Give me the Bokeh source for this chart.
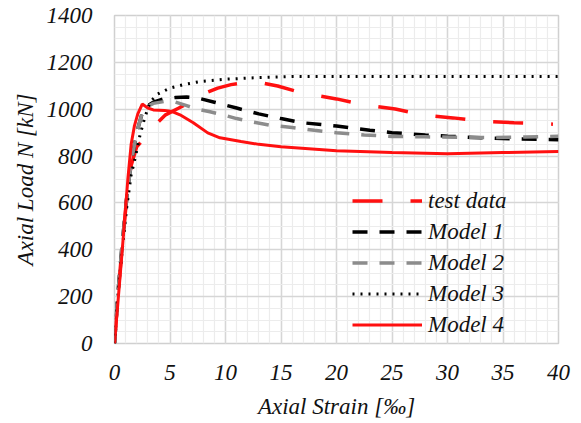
from bokeh.plotting import figure
from bokeh.models import Range1d, SingleIntervalTicker, Legend, LegendItem
from bokeh.embed import file_html
from bokeh.resources import INLINE

# ---- data ----
test_x = [0, 0.3, 0.7, 1.1, 1.5, 2.0, 2.8, 3.6, 4.6, 5.8, 6.8, 8.0, 9.3, 10.5, 12.0, 13.5, 14.7, 17.0, 20.0, 22.6, 25.3, 27.8, 30.5, 33.2, 36.0, 38.6, 39.5]
test_y = [0, 200, 420, 620, 760, 840, 880, 930, 976, 1005, 1031, 1065, 1090, 1105, 1116, 1110, 1099, 1068, 1044, 1018, 1001, 975, 963, 948, 942, 938, 936]

m1_x = [0, 0.3, 0.7, 1.1, 1.5, 2.0, 2.5, 3.0, 3.5, 4.5, 5.5, 6.5, 7.5, 9.0, 11.0, 13.0, 15.0, 17.0, 20.0, 23.0, 25.0, 28.0, 30.0, 33.0, 36.0, 40.0]
m1_y = [0, 210, 430, 620, 770, 900, 985, 1015, 1030, 1045, 1050, 1052, 1048, 1030, 1005, 980, 960, 942, 928, 910, 900, 890, 885, 878, 873, 870]

m2_x = [0, 0.3, 0.7, 1.1, 1.5, 2.0, 2.5, 3.0, 3.5, 4.5, 5.5, 6.5, 7.5, 8.6, 9.8, 11.0, 12.5, 14.0, 16.0, 18.0, 20.0, 22.5, 25.0, 28.0, 31.0, 34.0, 37.0, 40.0]
m2_y = [0, 210, 430, 620, 770, 900, 985, 1012, 1025, 1033, 1030, 1015, 1000, 989, 976, 960, 945, 932, 922, 910, 900, 890, 884, 882, 880, 879, 881, 885]

m3_x = [0, 0.3, 0.7, 1.1, 1.5, 1.9, 2.3, 2.7, 3.2, 3.9, 5.0, 6.2, 7.7, 10, 13, 16, 20, 25, 30, 35, 40]
m3_y = [0, 200, 400, 580, 720, 800, 890, 960, 1030, 1065, 1090, 1105, 1118, 1128, 1135, 1140, 1140, 1140, 1140, 1140, 1140]

m4_x = [0, 0.3, 0.7, 1.2, 1.5, 1.8, 2.1, 2.5, 3.0, 3.5, 4.5, 5.2, 5.9, 7.1, 8.4, 9.5, 11.4, 13, 15, 20, 25, 30, 35, 40]
m4_y = [0, 170, 400, 700, 850, 930, 980, 1022, 1005, 997, 995, 990, 976, 942, 899, 878, 862, 850, 840, 823, 815, 810, 815, 820]

labels = ["test data", "Model 1", "Model 2", "Model 3", "Model 4"]

FONT = "Liberation Serif"
TXT = "#111111"

p = figure(width=573, height=421, output_backend="svg", toolbar_location=None,
           x_range=Range1d(0, 40), y_range=Range1d(0, 1400),
           min_border_left=114, min_border_right=15, min_border_top=15, min_border_bottom=76)
p.outline_line_color = "#d0d0d0"
p.outline_line_width = 1.5

p.xaxis.ticker = SingleIntervalTicker(interval=5, num_minor_ticks=5)
p.yaxis.ticker = SingleIntervalTicker(interval=200, num_minor_ticks=4)

for ax in (p.xaxis, p.yaxis):
    ax.axis_line_color = None
    ax.major_tick_line_color = None
    ax.minor_tick_line_color = None
    ax.major_label_text_font = FONT
    ax.major_label_text_font_style = "italic"
    ax.major_label_text_font_size = "23px"
    ax.major_label_text_color = TXT
    ax.axis_label_text_font = FONT
    ax.axis_label_text_font_style = "italic"
    ax.axis_label_text_font_size = "23px"
    ax.axis_label_text_color = TXT

p.xaxis.axis_label = "Axial Strain [‰]"
p.yaxis.axis_label = "Axial Load N [kN]"
p.xaxis.major_label_standoff = 15
p.yaxis.major_label_standoff = 16
p.xaxis.axis_label_standoff = 11
p.yaxis.axis_label_standoff = 6

for g in (p.xgrid, p.ygrid):
    g.grid_line_color = "#d6d6d6"
    g.grid_line_width = 1.5
    g.minor_grid_line_color = "#ececec"
    g.minor_grid_line_width = 1.2

r0 = p.line(test_x, test_y, line_color="#ff1010", line_width=3.5, line_dash="30 28")
r1 = p.line(m1_x, m1_y, line_color="#000000", line_width=3.5, line_dash="15 12")
r2 = p.line(m2_x, m2_y, line_color="#8c8c8c", line_width=3.5, line_dash="15 12")
r3 = p.line(m3_x, m3_y, line_color="#000000", line_width=3, line_dash="2 6")
r4 = p.line(m4_x, m4_y, line_color="#ff1010", line_width=3)

items = [LegendItem(label=l, renderers=[r]) for l, r in zip(labels, [r0, r1, r2, r3, r4])]
legend = Legend(items=items, location=(238, 3), glyph_width=70, glyph_height=31,
                label_height=31, spacing=0, padding=0, margin=0, label_standoff=6,
                background_fill_alpha=0, border_line_alpha=0,
                label_text_font=FONT, label_text_font_style="italic",
                label_text_font_size="23px", label_text_color=TXT)
p.add_layout(legend, "center")

open("out.html", "w").write(file_html(p, INLINE))
